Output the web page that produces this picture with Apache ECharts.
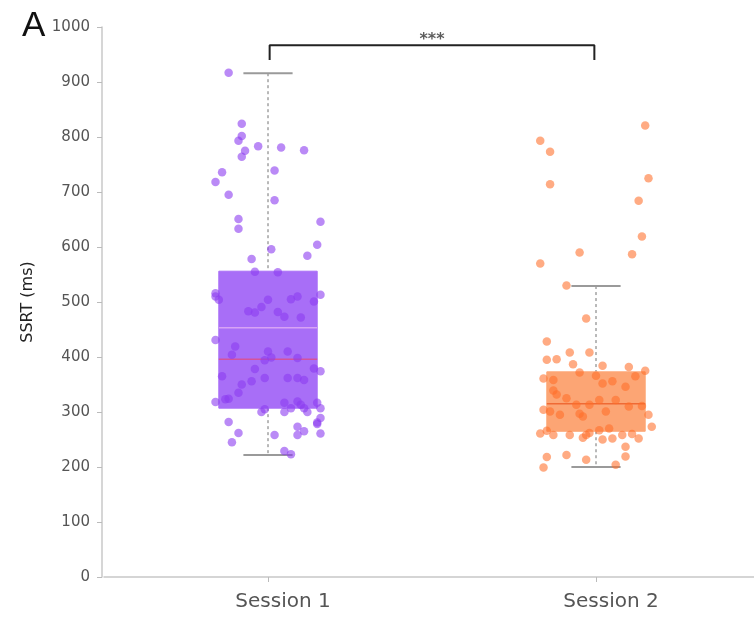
<!DOCTYPE html>
<html>
<head>
<meta charset="utf-8">
<script src="https://cdn.jsdelivr.net/npm/echarts@6/dist/echarts.min.js"></script>
<style>html,body{margin:0;padding:0;background:#fff}#c{width:754px;height:619px}</style>
</head>
<body>
<div id="c"></div>
<script>
const categories = ['Session 1', 'Session 2'];
const categoryPositions = [1, 2];
const yTicks = {min: 0, max: 1000, interval: 100};

// jitter offsets (x units from category centre) and SSRT values (ms)
const s1Offsets = [-0.12,-0.08,-0.08,-0.09,-0.03,0.04,0.11,-0.07,-0.08,-0.14,0.02,-0.16,-0.12,0.02,-0.09,-0.09,0.16,0.15,0.01,-0.05,0.12,-0.04,0.03,-0.16,-0.16,-0.15,0.16,0.14,0.00,0.07,0.09,-0.02,-0.06,-0.04,0.03,0.05,0.10,-0.16,-0.10,-0.11,0.00,0.01,-0.01,0.06,0.09,-0.04,0.14,0.16,-0.14,-0.01,0.06,0.09,0.11,-0.05,-0.08,-0.09,-0.13,-0.12,-0.16,0.05,0.09,0.10,0.15,0.07,0.11,0.16,-0.01,-0.02,0.05,0.12,-0.12,0.16,0.15,0.15,0.09,-0.09,0.02,0.09,0.11,0.16,-0.11,0.05,0.07];
const s1Values = [917,824,802,793,783,781,776,775,764,736,739,718,695,685,651,633,646,604,596,578,584,555,554,516,510,504,513,501,504,505,510,491,483,481,482,473,472,431,419,404,410,399,394,410,398,378,379,374,365,362,362,362,358,356,350,335,323,324,318,317,319,313,317,307,307,307,305,300,300,300,282,289,281,278,273,262,258,258,265,261,245,229,223];
const s2Offsets = [0.15,-0.17,-0.14,0.16,-0.14,0.13,0.14,-0.05,0.11,-0.17,-0.09,-0.03,-0.15,-0.15,-0.12,-0.08,-0.02,-0.07,0.02,0.10,0.15,0.12,-0.05,0.00,-0.16,-0.13,0.02,0.05,0.09,-0.13,-0.12,-0.09,0.01,-0.02,0.06,-0.06,0.10,0.14,-0.16,-0.14,-0.05,0.03,-0.11,-0.04,0.16,-0.17,-0.13,-0.08,-0.03,-0.02,0.01,0.04,0.08,0.11,0.13,0.17,0.02,0.05,-0.04,-0.15,0.09,-0.15,-0.09,-0.03,0.09,-0.16,0.06];
const s2Values = [821,793,773,725,714,684,619,590,587,570,530,470,428,395,396,408,408,387,384,382,375,365,372,366,361,358,352,356,346,339,332,325,322,313,322,313,310,311,304,301,297,301,295,292,295,261,258,258,258,262,267,270,258,260,252,273,250,252,253,266,237,218,222,213,219,199,204];

// box stats: [min, q1, median, q3, max, mean]
const s1Box = [222, 307, 396, 556, 916, 453];
const s2Box = [200, 265, 315, 373, 529, 0];

const bracket = [[1.005, 940], [1.005, 967], [1.995, 967], [1.995, 940]];
const sigLabel = '***';

const boxColors = ['#a86ef7', '#fca574'];
const medianColors = ['#d4529c', '#ef6a35'];
const meanColors = ['#d7a2f5', null];
const pointColors = ['rgba(140,60,240,0.75)', 'rgba(255,110,40,0.72)'];

const boxData = [[1].concat(s1Box), [2].concat(s2Box)];

const chart = echarts.init(document.getElementById('c'));
const fontFam = '"DejaVu Sans", Verdana, sans-serif';

function renderBox(params, api) {
  const i = params.dataIndex;
  const x = api.value(0);
  const mn = api.value(1), q1 = api.value(2), md = api.value(3), q3 = api.value(4), mx = api.value(5), mean = api.value(6);
  const hw = 0.15, cw = 0.075;
  const pL = api.coord([x - hw, q3]);
  const pR = api.coord([x + hw, q1]);
  const c = api.coord([x, md]);
  const top = api.coord([x, mx]);
  const bot = api.coord([x, mn]);
  const q3p = api.coord([x, q3]);
  const q1p = api.coord([x, q1]);
  const capL = api.coord([x - cw, mx])[0];
  const capR = api.coord([x + cw, mx])[0];
  const children = [
    {type: 'line', shape: {x1: top[0], y1: top[1], x2: q3p[0], y2: q3p[1]}, style: {stroke: '#8a8a8a', lineWidth: 1.2, lineDash: [3, 3]}},
    {type: 'line', shape: {x1: q1p[0], y1: q1p[1], x2: bot[0], y2: bot[1]}, style: {stroke: '#8a8a8a', lineWidth: 1.2, lineDash: [3, 3]}},
    {type: 'line', shape: {x1: capL, y1: top[1], x2: capR, y2: top[1]}, style: {stroke: '#9a9a9a', lineWidth: 2}},
    {type: 'line', shape: {x1: capL, y1: bot[1], x2: capR, y2: bot[1]}, style: {stroke: '#9a9a9a', lineWidth: 2}},
    {type: 'rect', shape: {x: pL[0], y: pL[1], width: pR[0] - pL[0], height: pR[1] - pL[1]}, style: {fill: boxColors[i], stroke: boxColors[i], lineWidth: 1}},
    {type: 'line', shape: {x1: pL[0], y1: c[1], x2: pR[0], y2: c[1]}, style: {stroke: medianColors[i], lineWidth: 1.5}}
  ];
  if (meanColors[i] && mean > 0) {
    const m = api.coord([x, mean]);
    children.push({type: 'line', shape: {x1: pL[0], y1: m[1], x2: pR[0], y2: m[1]}, style: {stroke: meanColors[i], lineWidth: 1.5}});
  }
  return {type: 'group', children: children};
}

chart.setOption({
  animation: false,
  backgroundColor: '#fff',
  grid: {left: 104, right: 0, top: 27, bottom: 42, containLabel: false},
  graphic: [{type: 'text', left: 22, top: 9, style: {text: 'A', font: '35px "Liberation Sans", Arial, sans-serif', fill: '#111'}}],
  xAxis: {type: 'value', min: 0.5, max: 2.4817,
     axisLine: {show: true, onZero: false, lineStyle: {color: '#c8c8c8', width: 1.5}},
     axisTick: {show: true, length: 5, customValues: categoryPositions, lineStyle: {color: '#bbb'}},
     axisLabel: {color: '#555', fontSize: 20, fontFamily: fontFam, margin: 15, padding: [0, 0, 0, 30], customValues: categoryPositions,
       formatter: function (v) { const k = categoryPositions.indexOf(Math.round(v)); return k >= 0 ? categories[k] : ''; }},
     splitLine: {show: false}},
  yAxis: {type: 'value', min: yTicks.min, max: yTicks.max, interval: yTicks.interval, offset: 2,
    name: 'SSRT (ms)', nameLocation: 'middle', nameGap: 66, nameRotate: 90,
    nameTextStyle: {color: '#222', fontSize: 16, fontFamily: fontFam},
    axisLine: {show: true, lineStyle: {color: '#c8c8c8', width: 1.5}},
    axisTick: {show: true, length: 5, lineStyle: {color: '#bbb'}},
    axisLabel: {color: '#555', fontSize: 15, fontFamily: fontFam, margin: 12, formatter: function (v) { return String(v); }},
    splitLine: {show: false}},
  series: [
    {type: 'custom', renderItem: renderBox, data: boxData, z: 1, encode: {x: 0, y: [1, 2, 3, 4, 5]}},
    {type: 'scatter', symbolSize: 8.5, z: 3,
     itemStyle: {color: pointColors[0]},
     data: s1Values.map((v, k) => [categoryPositions[0] + s1Offsets[k], v])},
    {type: 'scatter', symbolSize: 8.5, z: 3,
     itemStyle: {color: pointColors[1]},
     data: s2Values.map((v, k) => [categoryPositions[1] + s2Offsets[k], v])},
    {type: 'line', data: bracket, symbol: 'none', z: 4,
     lineStyle: {color: '#222', width: 2}},
    {type: 'scatter', symbolSize: 0, z: 4, data: [[1.5, 967]],
     label: {show: true, position: 'top', distance: -3, formatter: sigLabel, color: '#333', fontSize: 16, fontWeight: 'bold', fontFamily: fontFam}}
  ]
});
</script>
</body>
</html>
